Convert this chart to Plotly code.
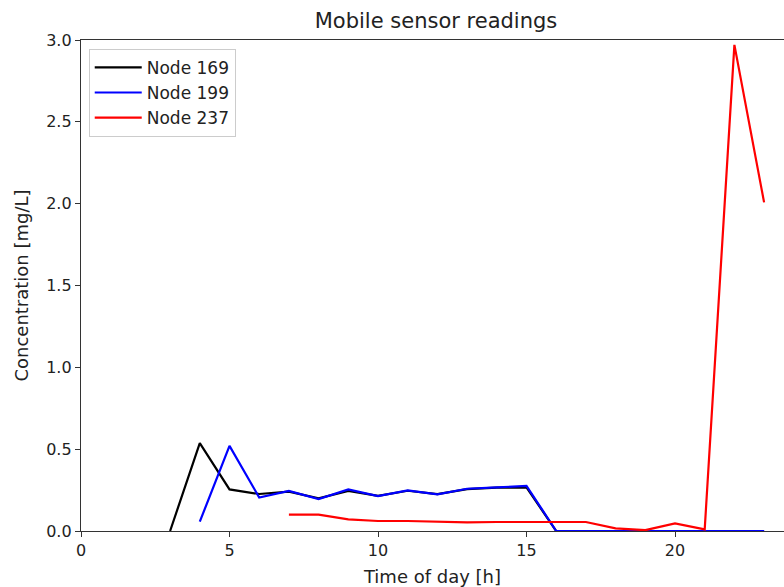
import plotly.graph_objects as go

hours = list(range(0, 24))
node169 = [None, None, None, 0.0, 0.537, 0.254, 0.226, 0.24, 0.2, 0.245, 0.215, 0.246, 0.225, 0.256, 0.265, 0.266,
           0.0, 0.0, 0.0, 0.0, 0.0, 0.0, 0.0, 0.0]
node199 = [None, None, None, None, 0.057, 0.52, 0.205, 0.245, 0.195, 0.254, 0.213, 0.248, 0.224, 0.258, 0.266, 0.276,
           0.0, 0.0, 0.0, 0.0, 0.0, 0.0, 0.0, 0.0]
node237 = [None, None, None, None, None, None, None, 0.1, 0.1, 0.071, 0.061, 0.061, 0.055, 0.053, 0.055, 0.055,
           0.057, 0.055, 0.016, 0.005, 0.047, 0.01, 2.97, 2.008]

series = [("Node 169", node169, "black"), ("Node 199", node199, "#0000ff"), ("Node 237", node237, "#ff0000")]

fig = go.Figure()
for name, vals, color in series:
    fig.add_trace(go.Scatter(x=hours, y=vals, mode="lines", name=name,
                             line=dict(color=color, width=2.2), connectgaps=False))

font = "DejaVu Sans, Verdana, sans-serif"
fig.update_layout(
    width=784, height=587,
    margin=dict(l=81, r=0, t=40, b=56),
    plot_bgcolor="white", paper_bgcolor="white",
    font=dict(family=font, size=15, color="#222"),
    title=dict(text="Mobile sensor readings", x=436 / 784, xanchor="center",
               y=1 - 21 / 587, yanchor="middle", font=dict(size=21, color="#222")),
    showlegend=True,
    legend=dict(x=0.011, y=0.982, xanchor="left", yanchor="top",
                bgcolor="rgba(255,255,255,0.85)", bordercolor="#cccccc", borderwidth=1,
                font=dict(size=17), tracegroupgap=0, itemwidth=47),
    xaxis=dict(range=[0, 23.67], tickvals=[0, 5, 10, 15, 20], showgrid=False, zeroline=False,
               showline=True, linecolor="#333", linewidth=1.3, mirror=True,
               ticks="outside", ticklen=5, tickcolor="#333", tickfont=dict(size=16),
               title=dict(text="Time of day [h]", standoff=12)),
    yaxis=dict(range=[0, 3.0], tickvals=[0, 0.5, 1.0, 1.5, 2.0, 2.5, 3.0],
               ticktext=["0.0", "0.5", "1.0", "1.5", "2.0", "2.5", "3.0"],
               showgrid=False, zeroline=False,
               showline=True, linecolor="#333", linewidth=1.3, mirror=False,
               ticks="outside", ticklen=5, tickcolor="#333", tickfont=dict(size=16),
               title=dict(text="Concentration [mg/L]", standoff=12)),
)

fig.write_html("out.html", config={"displayModeBar": False},
               post_script="document.body.style.margin='0px';document.body.style.overflow='hidden';")
